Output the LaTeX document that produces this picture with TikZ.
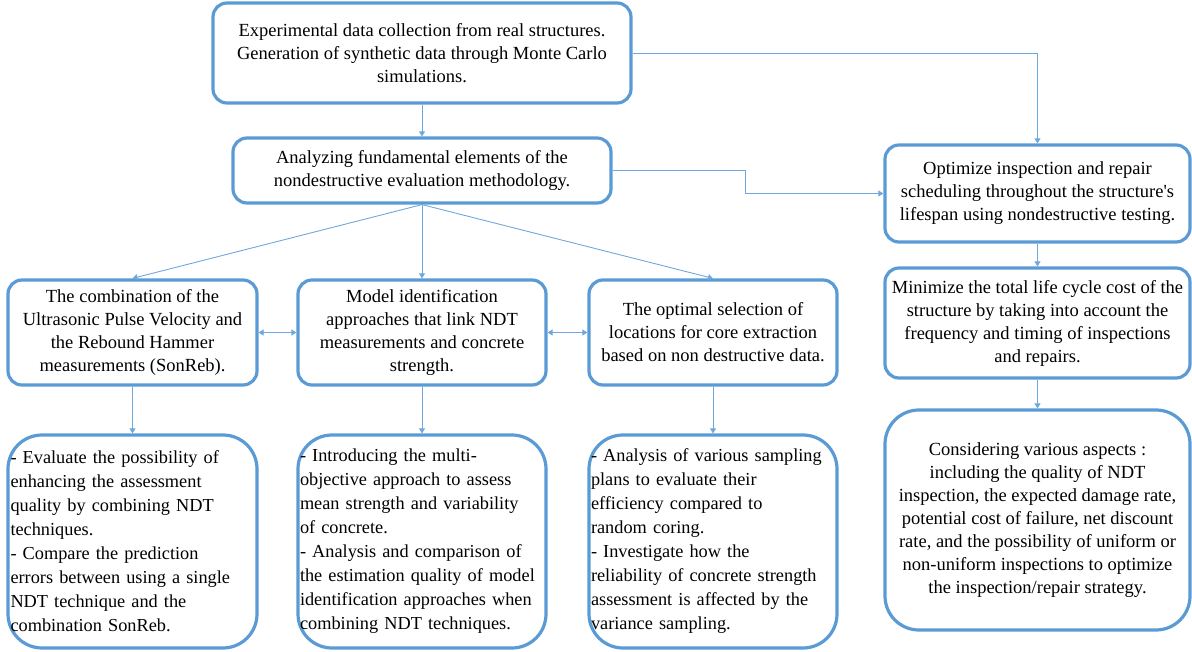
\documentclass[tikz,border=0pt]{standalone}
\usepackage{fontspec}
\setmainfont{Liberation Serif}
\usetikzlibrary{arrows.meta,positioning}
\definecolor{boxblue}{HTML}{5B9BD5}
\definecolor{lineblue}{HTML}{6FA8DC}

\begin{document}
\begin{tikzpicture}[
    x=1pt, y=-1pt,
    box/.style={
        rectangle,
        rounded corners=#1,
        draw=boxblue,
        line width=3.2pt,
        fill=white,
        align=center,
        inner sep=2pt,
        font=\fontsize{18.5}{23}\selectfont
    },
    box/.default=14pt,
    note/.style={
        box=34pt,
        align=left,
        text width=244pt,
        minimum width=249pt,
        minimum height=213pt,
        font=\fontsize{18.3}{24}\selectfont
    },
    arrow/.style={
        -{Triangle[width=6pt,length=5pt]},
        draw=lineblue,
        line width=0.9pt
    },
    link/.style={
        {Triangle[width=6pt,length=5pt]}-{Triangle[width=6pt,length=5pt]},
        draw=lineblue,
        line width=0.9pt
    }
]
\useasboundingbox (0,0) rectangle (1192,652);

% Data box
\node[box, minimum width=418pt, minimum height=100pt] (data) at (422,53) {
    Experimental data collection from real structures.\\
    Generation of synthetic data through Monte Carlo\\
    simulations.
};

% Methodology box
\node[box, minimum width=378pt, minimum height=65pt] (method) at (422,170.5) {
    Analyzing fundamental elements of the\\
    nondestructive evaluation methodology.
};

% Three branches
\node[box, minimum width=249pt, minimum height=105pt] (sonreb) at (132.5,332.5) {
    The combination of the\\
    Ultrasonic Pulse Velocity and\\
    the Rebound Hammer\\
    measurements (SonReb).
};
\node[box, minimum width=248pt, minimum height=105pt] (model) at (422,332.5) {
    Model identification\\
    approaches that link NDT\\
    measurements and concrete\\
    strength.
};
\node[box, minimum width=248pt, minimum height=105pt] (coring) at (713,332.5) {
    The optimal selection of\\
    locations for core extraction\\
    based on non destructive data.
};

% Details of the branches
\node[note] (sonrebnote) at (132.5,541.5) {
    - Evaluate the possibility of\\
    enhancing the assessment\\
    quality by combining NDT\\
    techniques.\\
    - Compare the prediction\\
    errors between using a single\\
    NDT technique and the\\
    combination SonReb.
};
\node[note, minimum width=248pt] (modelnote) at (422,541.5) {
    - Introducing the multi-\\
    objective approach to assess\\
    mean strength and variability\\
    of concrete.\\
    - Analysis and comparison of\\
    the estimation quality of model\\
    identification approaches when\\
    combining NDT techniques.
};
\node[note, minimum width=248pt] (coringnote) at (713,541.5) {
    - Analysis of various sampling\\
    plans to evaluate their\\
    efficiency compared to\\
    random coring.\\
    - Investigate how the\\
    reliability of concrete strength\\
    assessment is affected by the\\
    variance sampling.
};

% Inspection column
\node[box, minimum width=305pt, minimum height=97pt] (schedule) at (1037.5,193.5) {
    Optimize inspection and repair\\
    scheduling throughout the structure\textquotesingle s\\
    lifespan using nondestructive testing.
};
\node[box, minimum width=305pt, minimum height=110pt] (cost) at (1037.5,323) {
    Minimize the total life cycle cost of the\\
    structure by taking into account the\\
    frequency and timing of inspections\\
    and repairs.
};
\node[box=34pt, minimum width=305pt, minimum height=220pt] (aspects) at (1037.5,520) {
    Considering various aspects :\\
    including the quality of NDT\\
    inspection, the expected damage rate,\\
    potential cost of failure, net discount\\
    rate, and the possibility of uniform or\\
    non-uniform inspections to optimize\\
    the inspection/repair strategy.
};

% Connectors
\draw[arrow] (data) -- (method);
\draw[arrow] (data.east) -| (schedule.north);
\draw[arrow] (method.east) -- ++(133,0) |- (schedule.west);
\draw[arrow] (method.south) -- (sonreb.north);
\draw[arrow] (method.south) -- (model.north);
\draw[arrow] (method.south) -- (coring.north);
\draw[link] (sonreb) -- (model);
\draw[link] (model) -- (coring);
\draw[arrow] (sonreb) -- (sonrebnote);
\draw[arrow] (model) -- (modelnote);
\draw[arrow] (coring) -- (coringnote);
\draw[arrow] (schedule) -- (cost);
\draw[arrow] (cost) -- (aspects);

\end{tikzpicture}
\end{document}
